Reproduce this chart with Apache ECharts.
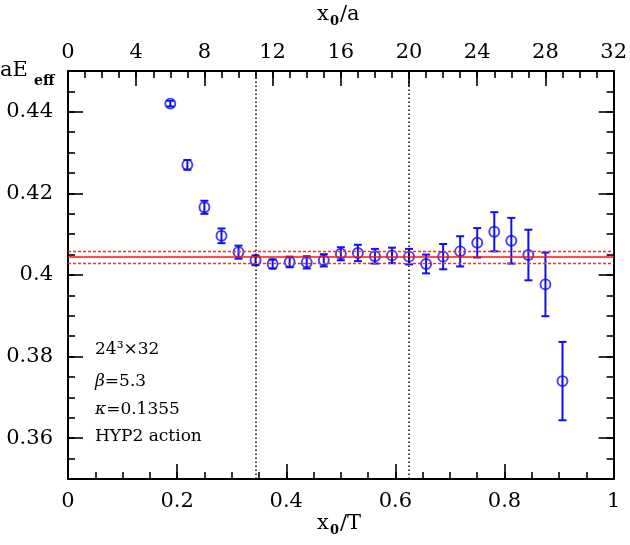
<!DOCTYPE html>
<html>
<head>
<meta charset="utf-8">
<script src="https://cdn.jsdelivr.net/npm/echarts@6/dist/echarts.min.js"></script>
<style>
html,body{margin:0;padding:0;background:#fff;}
#chart{width:630px;height:545px;}
</style>
</head>
<body>
<div id="chart"></div>
<script>
// x0/a time slices (T = 32)
var timeSlices = [6,7,8,9,10,11,12,13,14,15,16,17,18,19,20,21,22,23,24,25,26,27,28,29];
var energies = [0.4420,0.4270,0.4166,0.4096,0.4056,0.4036,0.4027,0.4032,0.4031,0.4036,0.4052,0.4054,
                0.4046,0.4048,0.4045,0.4027,0.4045,0.4058,0.4079,0.4106,0.4084,0.4049,0.3977,0.3740];
var errors = [0.0007,0.0012,0.0016,0.0018,0.0016,0.0012,0.0011,0.0013,0.0015,0.0015,0.0016,0.0020,
              0.0018,0.0019,0.0019,0.0023,0.0031,0.0037,0.0036,0.0048,0.0056,0.0062,0.0078,0.0096];
var fitValue = 0.4044;
var fitBand = [0.4029, 0.4059];
var fitWindow = [11, 20];
var yMajorTicks = [0.36, 0.38, 0.40, 0.42, 0.44];
var annotations = ['24³×32', 'β', '=5.3', 'κ', '=0.1355', 'HYP2 action'];

var FONT = 'DejaVu Serif';
var BLUE = '#0f0ff5';
var points = timeSlices.map(function(t,i){ return [t, energies[i], errors[i]]; });

var chart = echarts.init(document.getElementById('chart'));

var tickStyle = {color:'#000', width:1.6};
var yAxes = [];
['left','right'].forEach(function(pos){
  yAxes.push({type:'value', min:0.35, max:0.45, position:pos, interval:0.005, splitLine:{show:false},
    axisLine:{show:true, onZero:false, lineStyle:{color:'#000', width:2}},
    axisTick:{show:true, inside:true, length:7, lineStyle:tickStyle},
    axisLabel:{show:false}});
  yAxes.push({type:'value', min:0.35, max:0.45, position:pos, splitLine:{show:false},
    axisLine:{show:false, onZero:false},
    axisTick:{show:true, inside:true, length:15, customValues:yMajorTicks, lineStyle:tickStyle},
    axisLabel: pos === 'left' ? {show:true, customValues:yMajorTicks, margin:15, fontFamily:FONT, fontSize:21, color:'#000',
      formatter:function(v){ return String(+v.toFixed(2)); }} : {show:false}});
});

function xAxisPair(pos, max, majorStep, minorStep, margin, labelFmt){
  return [
    {type:'value', position:pos, min:0, max:max, interval:minorStep, splitLine:{show:false},
     axisLine:{show:true, onZero:false, lineStyle:{color:'#000', width:2}},
     axisTick:{show:true, inside:true, length:7, lineStyle:tickStyle},
     axisLabel:{show:false}},
    {type:'value', position:pos, min:0, max:max, interval:majorStep, splitLine:{show:false},
     axisLine:{show:false, onZero:false},
     axisTick:{show:true, inside:true, length:15, lineStyle:tickStyle},
     axisLabel:{show:true, margin:margin, fontFamily:FONT, fontSize:21, color:'#000', formatter:labelFmt}}
  ];
}
var xAxes = xAxisPair('top', 32, 4, 1, 8, function(v){ return String(v); })
  .concat(xAxisPair('bottom', 1, 0.2, 0.05, 12, function(v){ return String(+v.toFixed(2)); }));

var option = {
  animation:false,
  backgroundColor:'#fff',
  grid:{left:68, right:13, top:71, bottom:66},
  xAxis: xAxes,
  yAxis: yAxes,
  series:[
    {
      type:'custom', xAxisIndex:1, yAxisIndex:0, data:points, z:3,
      encode:{x:0, y:1},
      renderItem:function(params, api){
        var x = api.value(0), y = api.value(1), e = api.value(2);
        var top = api.coord([x, y+e]), bot = api.coord([x, y-e]);
        var st = {stroke:BLUE, lineWidth:2};
        return {type:'group', children:[
          {type:'line', shape:{x1:top[0], y1:top[1], x2:bot[0], y2:bot[1]}, style:st},
          {type:'line', shape:{x1:top[0]-4, y1:top[1], x2:top[0]+4, y2:top[1]}, style:st},
          {type:'line', shape:{x1:bot[0]-4, y1:bot[1], x2:bot[0]+4, y2:bot[1]}, style:st}
        ]};
      }
    },
    {
      type:'scatter', xAxisIndex:1, yAxisIndex:0, z:4,
      data:points.map(function(p){ return [p[0], p[1]]; }),
      symbol:'circle', symbolSize:10,
      itemStyle:{color:'rgba(255,255,255,0)', borderColor:BLUE, borderWidth:1.9},
      markLine:{
        silent:true, symbol:'none', label:{show:false}, precision:6,
        data:[
          {yAxis:fitValue, lineStyle:{color:'#ff1010', width:1.5, type:'solid'}},
          {yAxis:fitBand[0], lineStyle:{color:'#ff2a2a', width:1.3, type:[3,2]}},
          {yAxis:fitBand[1], lineStyle:{color:'#ff2a2a', width:1.3, type:[3,2]}},
          {xAxis:fitWindow[0], lineStyle:{color:'#000', width:1.5, type:[1.5,2.5]}},
          {xAxis:fitWindow[1], lineStyle:{color:'#000', width:1.5, type:[1.5,2.5]}}
        ]
      }
    }
  ],
  graphic:[
    {type:'text', left:0, top:60, style:{text:'aE', font:'21px "'+FONT+'"', fill:'#000'}},
    {type:'text', left:34, top:74, style:{text:'eff', font:'bold 14px "'+FONT+'"', fill:'#000'}},
    {type:'text', left:317, top:4, style:{text:'x', font:'21px "'+FONT+'"', fill:'#000'}},
    {type:'text', left:330, top:15, style:{text:'0', font:'bold 13px "'+FONT+'"', fill:'#000'}},
    {type:'text', left:340, top:4, style:{text:'/a', font:'21px "'+FONT+'"', fill:'#000'}},
    {type:'text', left:317, top:513, style:{text:'x', font:'21px "'+FONT+'"', fill:'#000'}},
    {type:'text', left:330, top:524, style:{text:'0', font:'bold 13px "'+FONT+'"', fill:'#000'}},
    {type:'text', left:340, top:513, style:{text:'/T', font:'21px "'+FONT+'"', fill:'#000'}},
    {type:'text', left:95, top:341, style:{text:annotations[0], font:'17px "'+FONT+'"', fill:'#000'}},
    {type:'text', left:95, top:373, style:{text:'{g|'+annotations[1]+'}{n|'+annotations[2]+'}',
      rich:{g:{font:'italic 17px "'+FONT+'"', fill:'#000'}, n:{font:'17px "'+FONT+'"', fill:'#000'}}}},
    {type:'text', left:95, top:401, style:{text:'{g|'+annotations[3]+'}{n|'+annotations[4]+'}',
      rich:{g:{font:'italic 17px "'+FONT+'"', fill:'#000'}, n:{font:'17px "'+FONT+'"', fill:'#000'}}}},
    {type:'text', left:95, top:428, style:{text:annotations[5], font:'17px "'+FONT+'"', fill:'#000'}}
  ]
};
chart.setOption(option);
</script>
</body>
</html>
